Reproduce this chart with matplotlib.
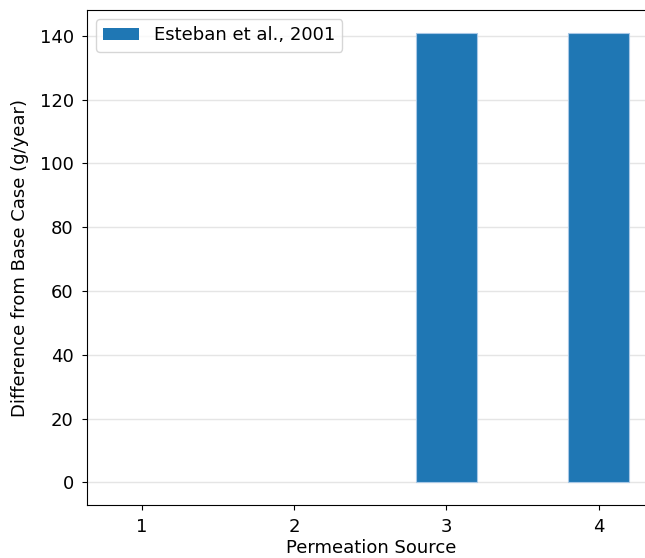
import matplotlib
matplotlib.use("Agg")
import matplotlib.pyplot as plt

sources = [1, 2, 3, 4]
esteban = [0, 0, 141, 141]

fig = plt.figure(figsize=(6.45, 5.58), dpi=100)
ax = fig.add_axes([0.1349, 0.095, 0.8806, 0.887])

# no outline on the empty bars
edge_w = [0.8 if v else 0 for v in esteban]
ax.bar(sources, esteban, width=0.4, color='#1f77b4', edgecolor='#a9c8e6',
       linewidth=edge_w, label='Esteban et al., 2001', zorder=2)

ax.set_xlim(0.638, 4.37)
ax.set_ylim(-7.05, 148.05)
ax.set_xticks(sources)
ax.set_yticks(range(0, 141, 20))
ax.grid(axis='y', color='#e5e5e5', linewidth=1, zorder=0)
ax.set_axisbelow(True)
ax.tick_params(labelsize=13, pad=6)

ax.set_xlabel('Permeation Source', fontsize=13, labelpad=2)
ax.set_ylabel('Difference from Base Case (g/year)', fontsize=13, labelpad=8)
ax.legend(loc='upper left', fontsize=13)

fig.savefig('out.png', dpi=100)
